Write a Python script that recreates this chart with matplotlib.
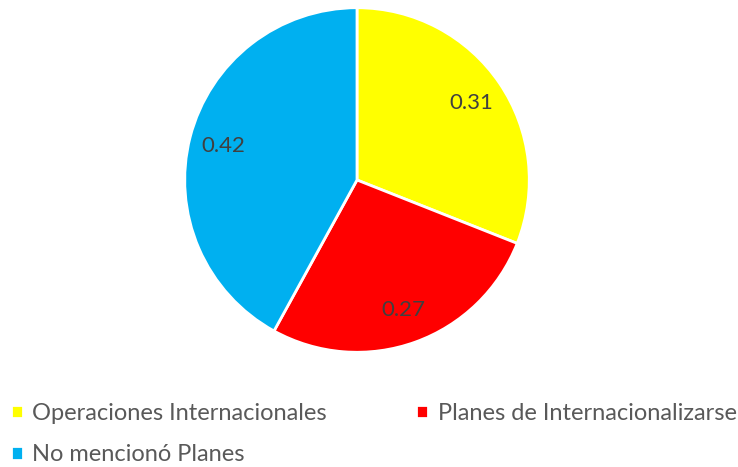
import matplotlib.pyplot as plt

categorias = ["Operaciones Internacionales", "Planes de Internacionalizarse", "No mencionó Planes"]
valores = [0.31, 0.27, 0.42]
colores = ["#FFFF00", "#FF0000", "#00B0F0"]

plt.rcParams['font.family'] = ['Lato', 'DejaVu Sans']

fig = plt.figure(figsize=(7.38, 4.67), dpi=100)
ax = fig.add_axes([(357 - 174) / 738, (467 - 354) / 467, 348 / 738, 348 / 467])

wedges, texts = ax.pie(valores, colors=colores, startangle=90, counterclock=False,
                       labels=[f"{v:.2f}" for v in valores], labeldistance=0.8,
                       wedgeprops=dict(edgecolor="white", linewidth=2))
for t in texts:
    t.set_color("#404040")
    t.set_fontsize(16)
    t.set_horizontalalignment("center")
    t.set_verticalalignment("center")
ax.set_xlim(-1.01, 1.01)
ax.set_ylim(-1.01, 1.01)
ax.set_aspect("equal")

# orden por filas: Operaciones, Planes / No mencionó
orden = [0, 2, 1]
fig.legend([wedges[i] for i in orden], [categorias[i] for i in orden],
           loc="upper left", bbox_to_anchor=(0.005, 1 - 396 / 467),
           ncol=2, frameon=False, fontsize=17, labelcolor="#595959",
           handlelength=0.5, handleheight=0.5, handletextpad=0.4,
           columnspacing=3.8, labelspacing=0.85, borderaxespad=0, borderpad=0.3)

fig.savefig("out.png", dpi=100)
